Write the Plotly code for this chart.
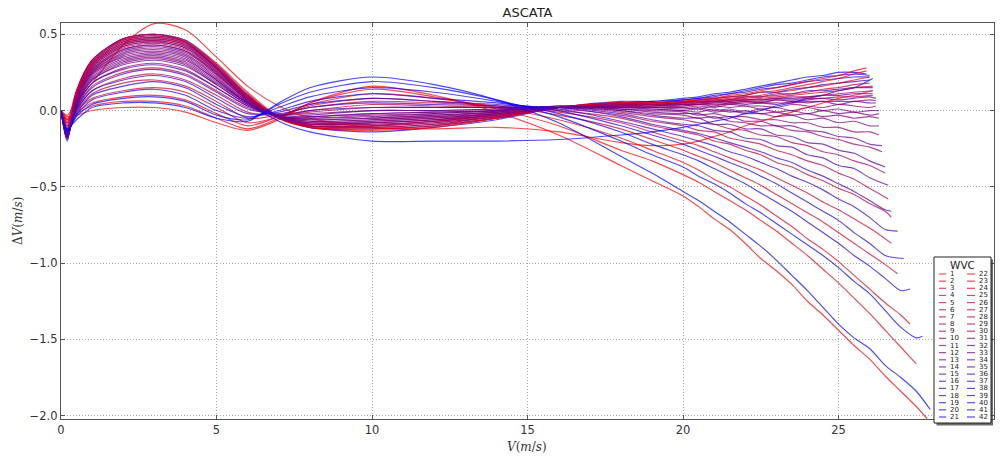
import plotly.graph_objects as go

# Wind-speed grid (m/s) shared by every WVC curve; each curve stops at its own last speed
speed_grid = [0, 0.2, 0.5, 1, 2, 3, 4, 5, 6, 7, 8, 10, 12, 14, 16, 18,
              19, 20, 20.5, 21, 21.5, 22, 22.5, 23, 23.5, 24, 24.5, 25, 25.5, 26, 26.5, 27, 27.5]

wvc_labels = [str(i) for i in range(1, 43)]

# Last wind speed reached by each WVC
v_last = [27.85, 27.5, 27.3, 26.9, 26.7, 26.7, 26.6, 26.5, 26.4, 26.3,
          26.3, 26.3, 26.2, 26.2, 26.1, 26.1, 26.0, 26.0, 26.0, 25.9, 26.1,
          26.1, 25.9, 25.9, 26.0, 26.0, 26.1, 26.1, 26.1, 26.2, 26.2,
          26.3, 26.3, 26.4, 26.5, 26.6, 26.7, 26.9, 27.1, 27.3, 27.7, 27.95]

# Speed bias dV (m/s) per WVC
dv_wvc01 = [0, -0.04, -0.03, 0.0, 0.02, 0.02, -0.01, -0.08, -0.13, -0.06, 0.05, 0.16, 0.10, -0.01, -0.16, -0.36,
            -0.46, -0.56, -0.63, -0.71, -0.78, -0.87, -0.97, -1.05, -1.14, -1.25, -1.34, -1.44, -1.54, -1.63, -1.74, -1.84, -1.94, -2.02]
dv_wvc02 = [0, -0.05, -0.02, 0.03, 0.06, 0.06, 0.03, -0.05, -0.12, -0.05, 0.05, 0.14, 0.09, 0.01, -0.1, -0.26,
            -0.33, -0.42, -0.47, -0.53, -0.59, -0.65, -0.72, -0.79, -0.87, -0.95, -1.04, -1.13, -1.23, -1.33, -1.44, -1.55, -1.66]
dv_wvc03 = [0, -0.06, -0.01, 0.05, 0.09, 0.1, 0.07, -0.02, -0.1, -0.04, 0.04, 0.11, 0.08, 0.02, -0.06, -0.18,
            -0.26, -0.34, -0.39, -0.45, -0.5, -0.56, -0.62, -0.69, -0.76, -0.84, -0.91, -0.99, -1.08, -1.17, -1.26, -1.34, -1.40]
dv_wvc04 = [0, -0.07, 0.0, 0.08, 0.13, 0.15, 0.12, 0.02, -0.08, -0.04, 0.03, 0.08, 0.06, 0.03, -0.03, -0.12,
            -0.19, -0.26, -0.3, -0.34, -0.39, -0.44, -0.49, -0.55, -0.61, -0.67, -0.73, -0.8, -0.87, -0.94, -1.01, -1.07]
dv_wvc05 = [0, -0.08, 0.0, 0.11, 0.18, 0.2, 0.16, 0.06, -0.05, -0.03, 0.02, 0.06, 0.05, 0.03, -0.01, -0.08,
            -0.14, -0.2, -0.23, -0.27, -0.31, -0.35, -0.39, -0.44, -0.49, -0.54, -0.6, -0.65, -0.71, -0.77, -0.84, -0.87]
dv_wvc06 = [0, -0.09, 0.01, 0.13, 0.21, 0.24, 0.2, 0.1, -0.01, -0.03, 0.0, 0.04, 0.03, 0.02, 0.0, -0.05,
            -0.1, -0.14, -0.16, -0.2, -0.22, -0.26, -0.29, -0.34, -0.37, -0.42, -0.46, -0.51, -0.55, -0.61, -0.66, -0.70]
dv_wvc07 = [0, -0.1, 0.02, 0.16, 0.25, 0.28, 0.24, 0.13, 0.02, -0.03, -0.01, 0.02, 0.02, 0.02, 0.01, -0.03,
            -0.07, -0.1, -0.13, -0.14, -0.18, -0.2, -0.22, -0.26, -0.29, -0.33, -0.36, -0.41, -0.45, -0.51, -0.58]
dv_wvc08 = [0, -0.11, 0.03, 0.18, 0.28, 0.31, 0.27, 0.15, 0.03, -0.03, -0.02, 0.0, 0.0, 0.01, 0.02, -0.01,
            -0.04, -0.06, -0.08, -0.09, -0.12, -0.13, -0.16, -0.17, -0.21, -0.23, -0.27, -0.29, -0.33, -0.36, -0.41]
dv_wvc09 = [0, -0.12, 0.04, 0.2, 0.31, 0.34, 0.3, 0.17, 0.04, -0.04, -0.04, -0.02, -0.01, 0.0, 0.02, 0.0,
            -0.02, -0.03, -0.05, -0.04, -0.07, -0.08, -0.1, -0.1, -0.13, -0.14, -0.17, -0.19, -0.22, -0.24, -0.27]
dv_wvc10 = [0, -0.12, 0.05, 0.22, 0.33, 0.36, 0.32, 0.19, 0.05, -0.04, -0.05, -0.03, -0.02, 0.0, 0.02, 0.01,
            0.0, -0.01, -0.03, -0.02, -0.04, -0.04, -0.06, -0.06, -0.08, -0.08, -0.11, -0.11, -0.14, -0.14, -0.16]
dv_wvc11 = [0, -0.13, 0.06, 0.24, 0.35, 0.38, 0.34, 0.2, 0.05, -0.04, -0.06, -0.05, -0.03, -0.01, 0.02, 0.02,
            0.01, 0.0, -0.01, 0.01, -0.01, 0.0, -0.02, -0.01, -0.03, -0.02, -0.04, -0.03, -0.05, -0.04, -0.05]
dv_wvc12 = [0, -0.13, 0.07, 0.25, 0.37, 0.4, 0.36, 0.22, 0.06, -0.04, -0.07, -0.06, -0.04, -0.01, 0.02, 0.02,
            0.02, 0.02, 0.01, 0.03, 0.02, 0.03, 0.01, 0.02, 0.0, 0.02, 0.0, 0.01, -0.01, 0.0, 0.0]
dv_wvc13 = [0, -0.14, 0.08, 0.26, 0.39, 0.42, 0.38, 0.24, 0.07, -0.04, -0.08, -0.07, -0.05, -0.02, 0.02, 0.03,
            0.03, 0.03, 0.04, 0.03, 0.05, 0.04, 0.05, 0.04, 0.06, 0.05, 0.06, 0.04, 0.06, 0.05, 0.05]
dv_wvc14 = [0, -0.14, 0.09, 0.27, 0.4, 0.43, 0.39, 0.25, 0.08, -0.04, -0.08, -0.08, -0.06, -0.02, 0.02, 0.03,
            0.03, 0.04, 0.04, 0.05, 0.05, 0.06, 0.05, 0.07, 0.06, 0.07, 0.08, 0.07, 0.08, 0.09, 0.08]
dv_wvc15 = [0, -0.15, 0.1, 0.28, 0.42, 0.45, 0.41, 0.26, 0.08, -0.04, -0.09, -0.08, -0.06, -0.03, 0.02, 0.03,
            0.04, 0.04, 0.05, 0.06, 0.06, 0.07, 0.07, 0.08, 0.08, 0.09, 0.1, 0.1, 0.11, 0.11]
dv_wvc16 = [0, -0.15, 0.1, 0.29, 0.43, 0.46, 0.42, 0.27, 0.08, -0.04, -0.09, -0.09, -0.07, -0.03, 0.02, 0.04,
            0.04, 0.05, 0.06, 0.07, 0.07, 0.09, 0.09, 0.11, 0.11, 0.13, 0.13, 0.14, 0.15, 0.15]
dv_wvc17 = [0, -0.16, 0.11, 0.3, 0.44, 0.47, 0.43, 0.28, 0.09, -0.04, -0.1, -0.1, -0.08, -0.04, 0.02, 0.04,
            0.05, 0.06, 0.07, 0.08, 0.09, 0.1, 0.12, 0.12, 0.14, 0.15, 0.17, 0.18, 0.19, 0.2]
dv_wvc18 = [0, -0.17, 0.12, 0.31, 0.45, 0.48, 0.44, 0.28, 0.09, -0.04, -0.1, -0.11, -0.09, -0.04, 0.02, 0.05,
            0.05, 0.07, 0.08, 0.09, 0.11, 0.12, 0.14, 0.15, 0.17, 0.19, 0.2, 0.21, 0.22, 0.22]
dv_wvc19 = [0, -0.18, 0.12, 0.32, 0.46, 0.49, 0.45, 0.29, 0.1, -0.04, -0.11, -0.12, -0.1, -0.05, 0.02, 0.05,
            0.06, 0.07, 0.08, 0.1, 0.11, 0.13, 0.15, 0.17, 0.18, 0.2, 0.22, 0.23, 0.24, 0.23]
dv_wvc20 = [0, -0.19, 0.13, 0.33, 0.47, 0.5, 0.46, 0.3, 0.1, -0.04, -0.11, -0.14, -0.11, -0.06, 0.02, 0.06,
            0.06, 0.08, 0.09, 0.11, 0.12, 0.14, 0.16, 0.18, 0.2, 0.22, 0.23, 0.25, 0.25, 0.24]
dv_wvc21 = [0, -0.2, 0.12, 0.33, 0.47, 0.5, 0.45, 0.28, 0.06, -0.07, -0.14, -0.2, -0.2, -0.2, -0.19, -0.16,
            -0.14, -0.11, -0.09, -0.07, -0.05, -0.02, 0.0, 0.03, 0.05, 0.08, 0.1, 0.13, 0.15, 0.21]
dv_wvc22 = [0, -0.03, 0.06, 0.18, 0.43, 0.57, 0.53, 0.35, 0.16, 0.03, -0.05, -0.11, -0.12, -0.11, -0.14, -0.21,
            -0.23, -0.22, -0.2, -0.17, -0.14, -0.1, -0.07, -0.04, -0.01, 0.02, 0.05, 0.08, 0.1, 0.13]
dv_wvc23 = [0, -0.06, 0.13, 0.33, 0.47, 0.5, 0.46, 0.31, 0.12, -0.04, -0.11, -0.13, -0.11, -0.05, 0.02, 0.05,
            0.05, 0.06, 0.07, 0.08, 0.1, 0.11, 0.13, 0.15, 0.17, 0.19, 0.21, 0.23, 0.26, 0.28]
dv_wvc24 = [0, -0.08, 0.13, 0.32, 0.46, 0.49, 0.45, 0.3, 0.11, -0.05, -0.11, -0.12, -0.1, -0.05, 0.02, 0.05,
            0.05, 0.06, 0.07, 0.08, 0.09, 0.1, 0.12, 0.13, 0.15, 0.17, 0.19, 0.21, 0.24, 0.26]
dv_wvc25 = [0, -0.1, 0.12, 0.31, 0.45, 0.48, 0.44, 0.29, 0.1, -0.05, -0.11, -0.11, -0.09, -0.05, 0.02, 0.05,
            0.05, 0.06, 0.06, 0.07, 0.08, 0.09, 0.1, 0.12, 0.13, 0.15, 0.16, 0.18, 0.2, 0.22]
dv_wvc26 = [0, -0.12, 0.11, 0.3, 0.44, 0.47, 0.43, 0.28, 0.09, -0.05, -0.1, -0.1, -0.08, -0.04, 0.02, 0.05,
            0.04, 0.05, 0.06, 0.06, 0.07, 0.08, 0.09, 0.1, 0.11, 0.12, 0.14, 0.15, 0.17, 0.18]
dv_wvc27 = [0, -0.14, 0.11, 0.29, 0.43, 0.46, 0.42, 0.27, 0.09, -0.05, -0.1, -0.1, -0.07, -0.04, 0.02, 0.04,
            0.04, 0.05, 0.05, 0.06, 0.07, 0.07, 0.08, 0.09, 0.1, 0.11, 0.12, 0.13, 0.15, 0.16]
dv_wvc28 = [0, -0.16, 0.1, 0.28, 0.42, 0.45, 0.41, 0.26, 0.08, -0.05, -0.09, -0.09, -0.07, -0.03, 0.02, 0.04,
            0.04, 0.05, 0.05, 0.06, 0.06, 0.07, 0.07, 0.08, 0.09, 0.09, 0.1, 0.11, 0.12, 0.13]
dv_wvc29 = [0, -0.17, 0.09, 0.27, 0.41, 0.44, 0.4, 0.25, 0.07, -0.05, -0.09, -0.08, -0.06, -0.03, 0.02, 0.03,
            0.03, 0.04, 0.04, 0.05, 0.05, 0.06, 0.06, 0.07, 0.07, 0.08, 0.08, 0.09, 0.09, 0.1]
dv_wvc30 = [0, -0.18, 0.08, 0.26, 0.4, 0.43, 0.39, 0.24, 0.07, -0.05, -0.08, -0.07, -0.05, -0.02, 0.02, 0.03,
            0.03, 0.03, 0.04, 0.04, 0.04, 0.05, 0.05, 0.05, 0.05, 0.06, 0.06, 0.06, 0.06, 0.07, 0.065]
dv_wvc31 = [0, -0.18, 0.07, 0.25, 0.38, 0.41, 0.37, 0.23, 0.07, -0.04, -0.07, -0.06, -0.04, -0.02, 0.02, 0.03,
            0.02, 0.02, 0.03, 0.02, 0.04, 0.03, 0.03, 0.02, 0.04, 0.03, 0.02, 0.04, 0.03, 0.02, 0.03]
dv_wvc32 = [0, -0.18, 0.06, 0.24, 0.36, 0.39, 0.35, 0.21, 0.06, -0.04, -0.06, -0.05, -0.03, -0.01, 0.03, 0.02,
            0.02, 0.01, 0.02, 0.0, 0.01, -0.01, 0.01, -0.01, 0.0, -0.02, 0.0, -0.02, -0.01, -0.03, -0.02]
dv_wvc33 = [0, -0.18, 0.05, 0.23, 0.34, 0.37, 0.33, 0.2, 0.05, -0.04, -0.05, -0.04, -0.02, 0.0, 0.03, 0.01,
            0.01, 0.0, 0.01, -0.01, 0.0, -0.02, -0.02, -0.04, -0.03, -0.06, -0.05, -0.08, -0.07, -0.1, -0.1]
dv_wvc34 = [0, -0.17, 0.04, 0.21, 0.32, 0.35, 0.31, 0.18, 0.05, -0.04, -0.04, -0.02, -0.01, 0.0, 0.03, 0.01,
            -0.01, -0.02, -0.02, -0.05, -0.04, -0.07, -0.07, -0.1, -0.1, -0.13, -0.14, -0.17, -0.18, -0.22, -0.23]
dv_wvc35 = [0, -0.17, 0.03, 0.2, 0.3, 0.33, 0.29, 0.17, 0.04, -0.04, -0.03, 0.0, 0.0, 0.01, 0.02, 0.0,
            -0.03, -0.05, -0.05, -0.09, -0.09, -0.12, -0.12, -0.16, -0.17, -0.21, -0.22, -0.26, -0.28, -0.33, -0.37]
dv_wvc36 = [0, -0.16, 0.02, 0.18, 0.27, 0.3, 0.26, 0.15, 0.03, -0.03, 0.0, 0.02, 0.02, 0.02, 0.02, -0.02,
            -0.06, -0.09, -0.1, -0.13, -0.14, -0.18, -0.19, -0.23, -0.24, -0.29, -0.31, -0.36, -0.38, -0.44, -0.49]
dv_wvc37 = [0, -0.16, 0.01, 0.15, 0.24, 0.27, 0.23, 0.12, 0.01, -0.02, 0.02, 0.05, 0.04, 0.03, 0.02, -0.04,
            -0.09, -0.13, -0.15, -0.18, -0.21, -0.24, -0.27, -0.31, -0.34, -0.39, -0.43, -0.48, -0.53, -0.59, -0.65, -0.66]
dv_wvc38 = [0, -0.15, 0.0, 0.13, 0.2, 0.23, 0.19, 0.08, -0.02, -0.01, 0.04, 0.08, 0.06, 0.04, 0.01, -0.07,
            -0.12, -0.17, -0.2, -0.23, -0.27, -0.3, -0.34, -0.38, -0.43, -0.47, -0.52, -0.58, -0.63, -0.7, -0.78, -0.79]
dv_wvc39 = [0, -0.14, -0.02, 0.1, 0.16, 0.19, 0.15, 0.04, -0.04, 0.0, 0.06, 0.11, 0.08, 0.05, 0.0, -0.1,
            -0.16, -0.22, -0.26, -0.3, -0.34, -0.38, -0.43, -0.48, -0.54, -0.6, -0.66, -0.72, -0.8, -0.87, -0.95, -0.97]
dv_wvc40 = [0, -0.14, -0.03, 0.07, 0.12, 0.14, 0.1, 0.0, -0.05, 0.02, 0.09, 0.15, 0.12, 0.06, -0.02, -0.14,
            -0.22, -0.29, -0.33, -0.38, -0.43, -0.48, -0.54, -0.6, -0.66, -0.73, -0.8, -0.87, -0.95, -1.02, -1.1, -1.18, -1.17]
dv_wvc41 = [0, -0.13, -0.04, 0.04, 0.08, 0.09, 0.06, -0.03, -0.06, 0.04, 0.12, 0.19, 0.15, 0.07, -0.04, -0.2,
            -0.29, -0.37, -0.43, -0.48, -0.54, -0.61, -0.67, -0.74, -0.81, -0.88, -0.95, -1.03, -1.12, -1.2, -1.31, -1.42, -1.49, -1.48]
dv_wvc42 = [0, -0.12, -0.06, 0.02, 0.05, 0.05, 0.02, -0.05, -0.07, 0.05, 0.15, 0.22, 0.17, 0.07, -0.08, -0.30,
            -0.41, -0.53, -0.59, -0.66, -0.73, -0.81, -0.89, -0.98, -1.08, -1.18, -1.29, -1.4, -1.49, -1.56, -1.67, -1.75, -1.84, -1.96]

dv_all = [dv_wvc01, dv_wvc02, dv_wvc03, dv_wvc04, dv_wvc05, dv_wvc06, dv_wvc07,
          dv_wvc08, dv_wvc09, dv_wvc10, dv_wvc11, dv_wvc12, dv_wvc13, dv_wvc14,
          dv_wvc15, dv_wvc16, dv_wvc17, dv_wvc18, dv_wvc19, dv_wvc20, dv_wvc21,
          dv_wvc22, dv_wvc23, dv_wvc24, dv_wvc25, dv_wvc26, dv_wvc27, dv_wvc28,
          dv_wvc29, dv_wvc30, dv_wvc31, dv_wvc32, dv_wvc33, dv_wvc34, dv_wvc35,
          dv_wvc36, dv_wvc37, dv_wvc38, dv_wvc39, dv_wvc40, dv_wvc41, dv_wvc42]


def wvc_color(cell, alpha=0.72):
    # red -> blue ramp across each half of the swath (1-21, 22-42)
    k = (cell - 1) % 21
    r = round(255 * (1 - k / 20))
    b = round(255 * k / 20)
    return f"rgba({r},0,{b},{alpha})"


# plot-area pixel frame (1001 x 461 canvas)
L_PX, R_PX, T_PX, B_PX = 61, 994, 23, 419


def xp(px):
    return (px - L_PX) / (R_PX - L_PX)


def yp(py):
    return (B_PX - py) / (B_PX - T_PX)


fig = go.Figure()
for i, vals in enumerate(dv_all):
    n_grid = len([g for g in speed_grid if g < v_last[i] - 0.15])
    xs = speed_grid[:n_grid] + [v_last[i]]
    assert len(xs) == len(vals), (i + 1, len(xs), len(vals))
    fig.add_trace(go.Scatter(
        x=xs, y=vals, mode="lines", name=wvc_labels[i],
        line=dict(color=wvc_color(i + 1), width=1.15, shape="spline", smoothing=0.8),
        showlegend=False, hoverinfo="skip"))

axis_common = dict(
    showline=True, linecolor="#555555", linewidth=1.3, mirror="ticks",
    ticks="inside", ticklen=4, tickcolor="#555555",
    showgrid=True, gridcolor="#a8a8a8", griddash="1px,2px", gridwidth=1,
    zeroline=False, tickfont=dict(family="DejaVu Sans", size=11.5, color="#333333"),
)

fig.update_xaxes(range=[0, 30], tickvals=[0, 5, 10, 15, 20, 25, 30], **axis_common)
fig.update_yaxes(range=[-2.022, 0.574], tickvals=[-2.0, -1.5, -1.0, -0.5, 0.0, 0.5],
                 tickformat=".1f", **axis_common)

shapes = []
annotations = []

# legend box with drop shadow
shapes.append(dict(type="rect", xref="paper", yref="paper",
                   x0=xp(936.5), x1=xp(993), y0=yp(425.5), y1=yp(259.5),
                   fillcolor="rgba(60,60,60,0.75)", line=dict(width=0), layer="above"))
shapes.append(dict(type="rect", xref="paper", yref="paper",
                   x0=xp(934), x1=xp(991), y0=yp(423), y1=yp(257),
                   fillcolor="white", line=dict(color="#222222", width=1), layer="above"))
annotations.append(dict(x=xp(962), y=yp(265), xref="paper", yref="paper", text="WVC",
                        showarrow=False, xanchor="center", yanchor="middle",
                        font=dict(family="DejaVu Sans", size=10.5, color="#222222")))

for j in range(21):
    py = 274 + 7.15 * j
    for col, (lx0, lx1, tx) in enumerate([(939, 946, 948), (967, 975, 977)]):
        cell = j + 1 + 21 * col
        shapes.append(dict(type="line", xref="paper", yref="paper",
                           x0=xp(lx0), x1=xp(lx1), y0=yp(py), y1=yp(py),
                           line=dict(color=wvc_color(cell), width=1.2), layer="above"))
        annotations.append(dict(x=xp(tx), y=yp(py), xref="paper", yref="paper",
                                text=wvc_labels[cell - 1], showarrow=False,
                                xanchor="left", yanchor="middle",
                                font=dict(family="DejaVu Sans", size=7, color="#222222")))

# axis titles
annotations.append(dict(x=xp(527), y=yp(447), xref="paper", yref="paper",
                        text="<i>V</i>(<i>m</i>/<i>s</i>)", showarrow=False,
                        xanchor="center", yanchor="middle",
                        font=dict(family="DejaVu Serif", size=12, color="#333333")))
annotations.append(dict(x=xp(18), y=yp(221), xref="paper", yref="paper",
                        text="Δ<i>V</i>(<i>m</i>/<i>s</i>)", showarrow=False, textangle=-90,
                        xanchor="center", yanchor="middle",
                        font=dict(family="DejaVu Serif", size=12, color="#333333")))

fig.update_layout(
    width=1001, height=461,
    margin=dict(l=L_PX, r=1001 - R_PX, t=T_PX, b=461 - B_PX),
    paper_bgcolor="white", plot_bgcolor="white",
    title=dict(text="ASCATA", x=0.5, xref="paper", y=1 - 12 / 461, yref="container",
               xanchor="center", yanchor="middle",
               font=dict(family="DejaVu Sans", size=13, color="#222222")),
    shapes=shapes, annotations=annotations, showlegend=False,
)

fig.write_html("out.html")
